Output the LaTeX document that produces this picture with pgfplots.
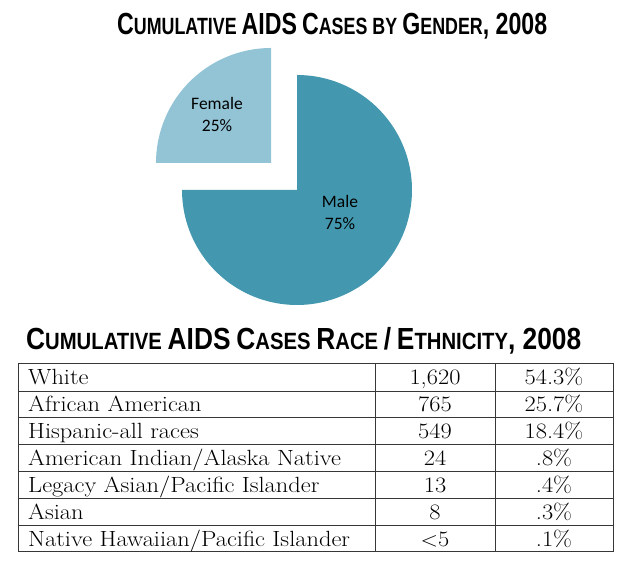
\documentclass[border=0pt]{standalone}
\usepackage{pgfplots}
\pgfplotsset{compat=1.18}
\usepackage{pgfplotstable}
\usepackage{graphicx}
\usepackage{fontspec}
\newfontfamily\titlefont{Liberation Sans}
\newfontfamily\piefont{Carlito}

\definecolor{malecol}{RGB}{67,152,175}
\definecolor{femalecol}{RGB}{147,196,214}
\definecolor{rulecol}{RGB}{55,55,55}

% pseudo small caps: large initial, smaller capitals
\newcommand\tsc[2]{{\fontsize{30.5bp}{31bp}\selectfont #1}{\fontsize{23.5bp}{24bp}\selectfont #2}}

% table cells: a slightly widened serif
\newcommand\tabfont{\fontsize{22bp}{26bp}\selectfont}
\newcommand\cell[1]{\scalebox{1.11}[1]{\tabfont #1}}

% one row of the race / ethnicity table, baseline at #1
\newcommand\racerow[4]{%
  \node[anchor=base west, inner sep=0pt] at (28,#1) {\cell{#2}};%
  \node[anchor=base, inner sep=0pt] at (435,#1) {\cell{#3}};%
  \node[anchor=base, inner sep=0pt] at (554,#1) {\cell{#4}};%
}

\pgfplotstableread{
label  value
Female 25
Male   75
}\gendertable
\pgfplotstablegetelem{0}{value}\of\gendertable \let\femaleval\pgfplotsretval
\pgfplotstablegetelem{1}{value}\of\gendertable \let\maleval\pgfplotsretval
\pgfmathsetmacro\femstart{90}
\pgfmathsetmacro\femend{90+3.6*\femaleval}
\pgfmathsetmacro\malend{\femend+3.6*\maleval}

\begin{document}
\begin{tikzpicture}[x=1bp, y=1bp]
\path[use as bounding box] (0,0) rectangle (630,571);
\begin{axis}[at={(0,0)}, anchor=south west, x=1bp, y=1bp,
  xmin=0, xmax=630, ymin=0, ymax=571, hide axis, clip=false]

% gender pie, female slice pulled out
\addplot[fill=malecol, draw=none, domain=\femend:\malend, samples=120, variable=\t]
  ({297+115*cos(t)}, {381+115*sin(t)}) -- (axis cs:297,381) -- cycle;
\addplot[fill=femalecol, draw=none, domain=\femstart:\femend, samples=60, variable=\t]
  ({271+115*cos(t)}, {408+115*sin(t)}) -- (axis cs:271,408) -- cycle;

\node[font=\piefont\fontsize{17.5bp}{22bp}\selectfont, align=center] at (axis cs:217,456) {Female\\\femaleval\%};
\node[font=\piefont\fontsize{17.5bp}{22bp}\selectfont, align=center] at (axis cs:340,358) {Male\\\maleval\%};
\end{axis}

% titles
\node[anchor=base west, inner sep=0pt] at (117,536) {\resizebox{430bp}{\height}{\titlefont\bfseries\fontsize{24bp}{24bp}\selectfont
  \tsc{C}{UMULATIVE} \tsc{AIDS}{} \tsc{C}{ASES} \tsc{}{BY} \tsc{G}{ENDER}\tsc{, 2008}{}}};
\node[anchor=base west, inner sep=0pt] at (26,221) {\resizebox{555bp}{\height}{\titlefont\bfseries\fontsize{24bp}{24bp}\selectfont
  \tsc{C}{UMULATIVE} \tsc{AIDS}{} \tsc{C}{ASES} \tsc{R}{ACE} \tsc{/}{} \tsc{E}{THNICITY}\tsc{, 2008}{}}};

% race / ethnicity table
\draw[rulecol, line width=1bp] (18,207) rectangle (613,19);
\foreach \yy in {180,153.1,126.3,99.4,72.6,45.7}
  \draw[rulecol, line width=0.9bp] (18,\yy) -- (613,\yy);
\draw[rulecol, line width=0.9bp] (375,207) -- (375,19);
\draw[rulecol, line width=0.9bp] (495,207) -- (495,19);
\racerow{186.0}{White}{1,620}{54.3\%}
\racerow{159.1}{African American}{765}{25.7\%}
\racerow{132.3}{Hispanic-all races}{549}{18.4\%}
\racerow{105.4}{American Indian/Alaska Native}{24}{.8\%}
\racerow{78.6}{Legacy Asian/Pacific Islander}{13}{.4\%}
\racerow{51.7}{Asian}{8}{.3\%}
\racerow{24.9}{Native Hawaiian/Pacific Islander}{$<$5}{.1\%}
\end{tikzpicture}
\end{document}
